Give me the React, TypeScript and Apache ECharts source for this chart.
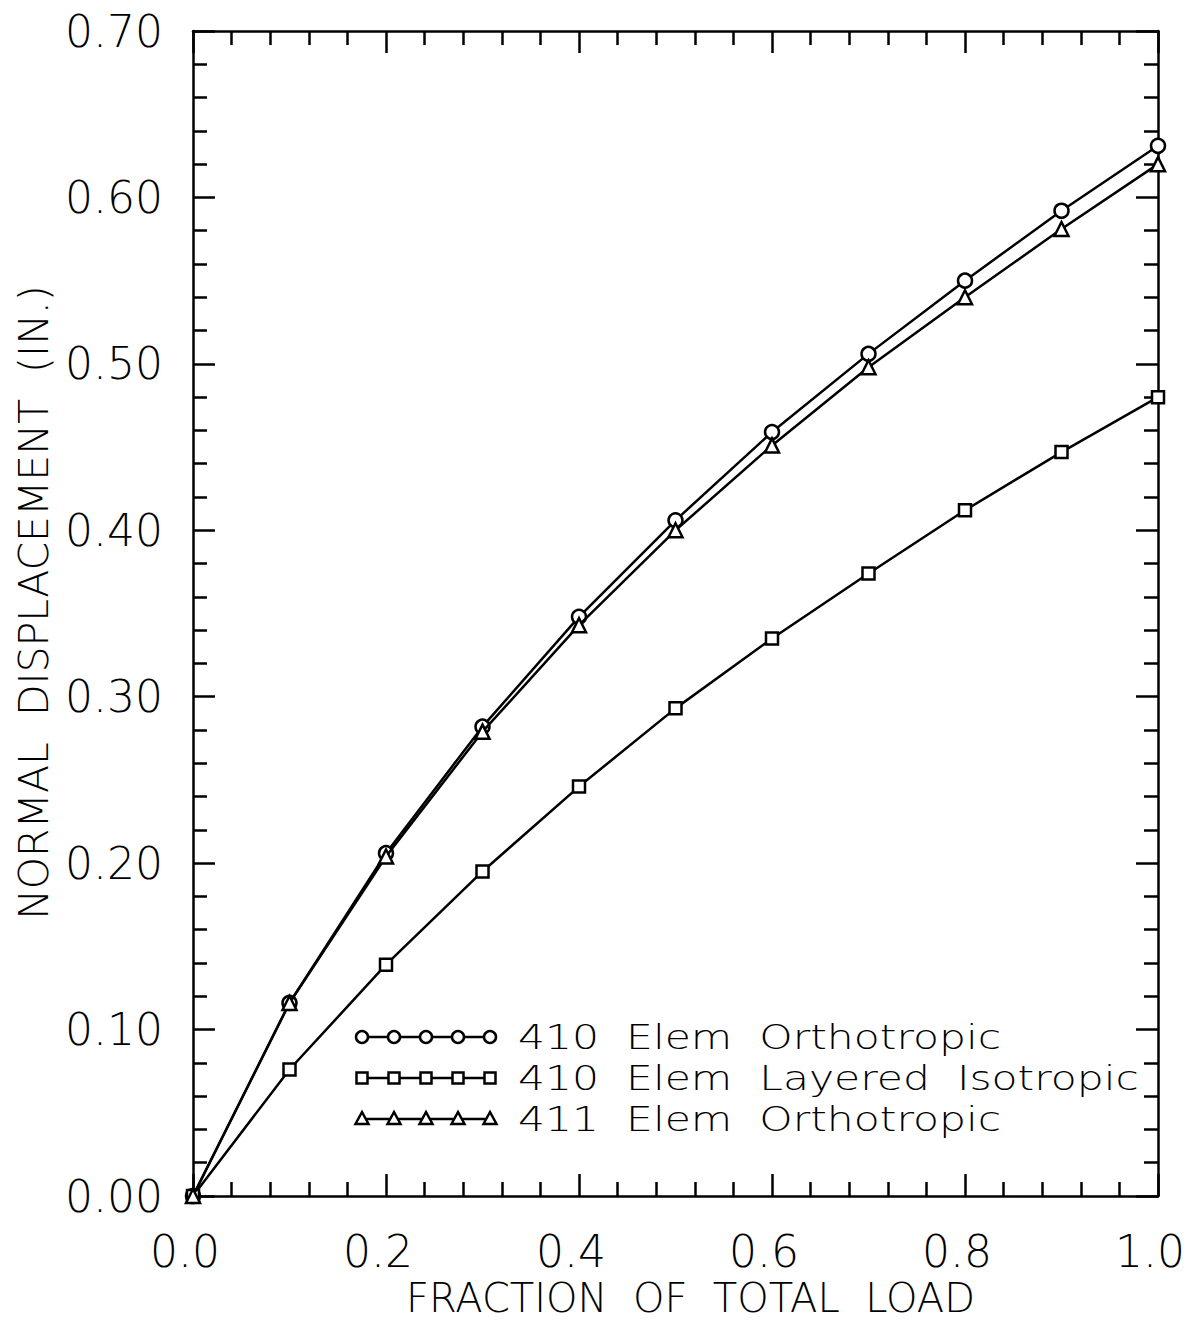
import React, { useEffect, useRef } from "react";
import * as echarts from "echarts";

const loadFractions = [0, 0.1, 0.2, 0.3, 0.4, 0.5, 0.6, 0.7, 0.8, 0.9, 1.0];
const orthotropic410 = [0, 0.116, 0.206, 0.282, 0.348, 0.406, 0.459, 0.506, 0.55, 0.592, 0.631];
const layeredIsotropic410 = [0, 0.076, 0.139, 0.195, 0.246, 0.293, 0.335, 0.374, 0.412, 0.447, 0.48];
const orthotropic411 = [0, 0.116, 0.204, 0.279, 0.343, 0.4, 0.451, 0.498, 0.54, 0.581, 0.62];

const seriesNames = ["410  Elem  Orthotropic", "410  Elem  Layered  Isotropic", "411  Elem  Orthotropic"];
const seriesSymbols = ["circle", "rect", "triangle"];
const seriesSizes = [14, 12, 14];
const xAxisTitle = "FRACTION  OF  TOTAL  LOAD";
const yAxisTitle = "NORMAL  DISPLACEMENT  (IN.)";

const FONT = "DejaVu Sans";

export default function App() {
  const ref = useRef<HTMLDivElement>(null);
  useEffect(() => {
    if (!ref.current) return;
    const chart = echarts.init(ref.current, null, { renderer: "svg", width: 1189, height: 1321 });
    const dataSets = [orthotropic410, layeredIsotropic410, orthotropic411];

    const commonX = {
      type: "value",
      min: 0,
      max: 1,
      interval: 0.2,
      axisLine: { show: true, onZero: false, lineStyle: { color: "#000", width: 2.5 } },
      axisTick: { show: true, inside: true, length: 22, lineStyle: { color: "#000", width: 2.5 } },
      minorTick: { show: true, splitNumber: 5, length: 14, lineStyle: { color: "#000", width: 2.5 } },
      splitLine: { show: false },
    };
    const commonY = {
      type: "value",
      min: 0,
      max: 0.7,
      interval: 0.1,
      axisLine: { show: true, onZero: false, lineStyle: { color: "#000", width: 2.5 } },
      axisTick: { show: true, inside: true, length: 22, lineStyle: { color: "#000", width: 2.5 } },
      minorTick: { show: true, splitNumber: 5, length: 14, lineStyle: { color: "#000", width: 2.5 } },
      splitLine: { show: false },
    };

    const legendRows = [1037, 1078, 1119];
    const legendXs = [362, 394, 426, 458, 490];
    const graphics: any[] = [];
    legendRows.forEach((y, i) => {
      graphics.push({
        type: "polyline",
        shape: { points: [[362, y], [490, y]] },
        style: { stroke: "#000", lineWidth: 2.5, fill: null },
        z: 10,
      });
      legendXs.forEach((x) => {
        if (i === 0) {
          graphics.push({ type: "circle", shape: { cx: x, cy: y, r: 6 }, style: { fill: "#fff", stroke: "#000", lineWidth: 2.5 }, z: 11 });
        } else if (i === 1) {
          graphics.push({ type: "rect", shape: { x: x - 5.5, y: y - 5.5, width: 11, height: 11 }, style: { fill: "#fff", stroke: "#000", lineWidth: 2.5 }, z: 11 });
        } else {
          graphics.push({ type: "polygon", shape: { points: [[x, y - 7], [x + 6.5, y + 5], [x - 6.5, y + 5]] }, style: { fill: "#fff", stroke: "#000", lineWidth: 2.5 }, z: 11 });
        }
      });
      graphics.push({
        type: "text",
        x: 518,
        y: y,
        scaleX: 1.25,
        style: { text: seriesNames[i], font: `200 34px "${FONT}"`, lineHeight: 36, fill: "#000", verticalAlign: "middle" },
        z: 11,
      });
    });

    chart.setOption({
      animation: false,
      backgroundColor: "#fff",
      textStyle: { fontFamily: FONT },
      grid: { left: 193, right: 31, top: 31, bottom: 125, containLabel: false, outerBoundsMode: "none" },
      xAxis: [
        {
          ...commonX,
          position: "bottom",
          name: xAxisTitle,
          nameLocation: "middle",
          nameGap: 64,
          nameTextStyle: { fontSize: 40, fontWeight: 200, fontFamily: FONT, color: "#000", padding: [0, 0, 0, 30] },
          axisLabel: {
            show: true,
            margin: 33,
            fontSize: 44,
            fontWeight: 200,
            fontFamily: FONT,
            color: "#000",
            padding: [0, 16, 0, 0],
            formatter: (v: number) => v.toFixed(1),
          },
        },
        { ...commonX, position: "top", axisLabel: { show: false } },
      ],
      yAxis: [
        {
          ...commonY,
          position: "left",
          name: yAxisTitle,
          nameLocation: "middle",
          nameRotate: 90,
          nameGap: 138,
          nameTextStyle: { fontSize: 41, fontWeight: 200, fontFamily: FONT, color: "#000", padding: [0, 0, 0, 22] },
          axisLabel: {
            show: true,
            margin: 30,
            fontSize: 44,
            fontWeight: 200,
            fontFamily: FONT,
            color: "#000",
            formatter: (v: number) => v.toFixed(2),
          },
        },
        { ...commonY, position: "right", axisLabel: { show: false } },
      ],
      series: dataSets.map((d, i) => ({
        name: seriesNames[i],
        type: "line",
        data: loadFractions.map((x, j) => [x, d[j]]),
        symbol: seriesSymbols[i],
        symbolSize: seriesSizes[i],
        showSymbol: true,
        lineStyle: { color: "#000", width: 2.5 },
        itemStyle: { color: "#fff", borderColor: "#000", borderWidth: 2.5 },
        z: 3 + i,
      })),
      graphic: graphics,
    });
    return () => chart.dispose();
  }, []);
  return (
    <div
      ref={ref}
      style={{ position: "absolute", left: 0, top: 0, width: 1189, height: 1321, overflow: "hidden" }}
    />
  );
}
